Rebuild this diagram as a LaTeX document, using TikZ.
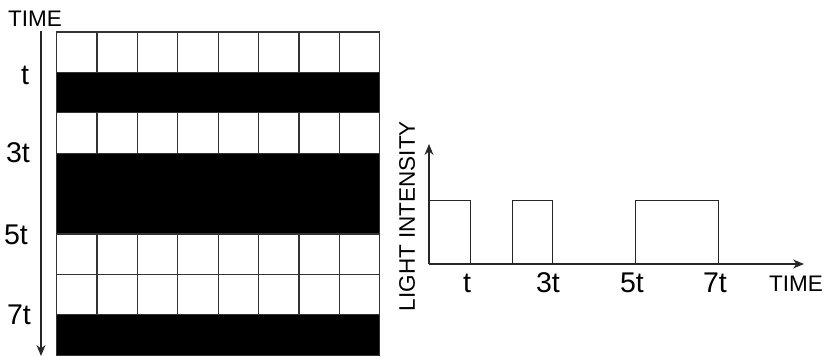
\documentclass[tikz,border=0pt]{standalone}
\usepackage{fontspec}
\setmainfont{Liberation Sans}
\usetikzlibrary{arrows.meta}
\begin{document}
\begin{tikzpicture}[x=1pt,y=-1pt,
  gridline/.style={draw=black!80, line width=1.2pt},
  blackrow/.style={fill=black, draw=black!80, line width=1.2pt},
  axis/.style={draw=black!85, line width=1.1pt, -{Stealth[length=11pt,width=9pt]}},
  pulse/.style={draw=black!85, line width=1pt},
  biglbl/.style={font=\fontsize{28.5}{28.5}\selectfont, inner sep=0pt},
  smalllbl/.style={font=\fontsize{22.5}{22.5}\selectfont, inner sep=0pt}]
\useasboundingbox (0,0) rectangle (824,357);
\def\gx{56.5}\def\gw{40.4}\def\gy{32}\def\gh{40.4}
% white rows
\foreach \r in {0,2,5,6}{
  \foreach \c in {0,...,7}{
    \draw[gridline] ({\gx+\c*\gw},{\gy+\r*\gh}) rectangle ++(\gw,\gh);
  }
}
% black rows
\draw[blackrow] (\gx,{\gy+1*\gh}) rectangle ++({8*\gw},\gh);
\draw[blackrow] (\gx,{\gy+3*\gh}) rectangle ++({8*\gw},{2*\gh});
\draw[blackrow] (\gx,{\gy+7*\gh}) rectangle ++({8*\gw},\gh);
% time axis (left)
\coordinate (ta) at (41,31);
\coordinate (tb) at (41,356);
\draw[axis] (ta) -- (tb);
\node[smalllbl] (timetop) at (35,19) {TIME};
\node[biglbl] (l1) at (25,75) {t};
\node[biglbl] (l3) at (18,153) {3t};
\node[biglbl] (l5) at (16,235) {5t};
\node[biglbl] (l7) at (19,315) {7t};
% intensity graph
\coordinate (o) at (429,264);
\coordinate (yend) at (429,144);
\coordinate (xend) at (804,264);
\draw[axis] (o) -- (yend);
\draw[axis] (o) -- (xend);
\draw[pulse] (429,264) -- (429,200) -- (470.5,200) -- (470.5,264);
\draw[pulse] (512,264) -- (512,200) -- (552.5,200) -- (552.5,264);
\draw[pulse] (635.5,264) -- (635.5,200) -- (718,200) -- (718,264);
\node[smalllbl, rotate=90] (li) at (407,216) {LIGHT INTENSITY};
\node[biglbl] (r1) at (467,283) {t};
\node[biglbl] (r3) at (548,283) {3t};
\node[biglbl] (r5) at (632,283) {5t};
\node[biglbl] (r7) at (715,283) {7t};
\node[smalllbl] (timeright) at (796,284) {TIME};
\end{tikzpicture}
\end{document}
